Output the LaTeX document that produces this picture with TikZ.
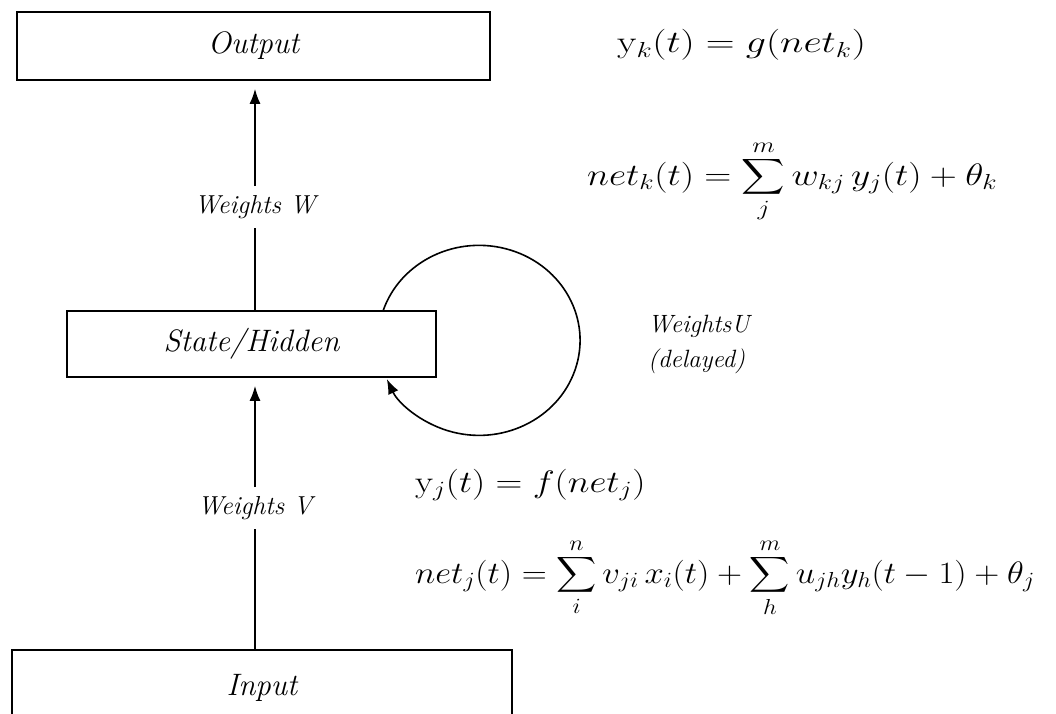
\documentclass[tikz,border=0pt]{standalone}
\usepackage{fix-cm}
\usepackage{amsmath}
\usepackage{graphicx}
\usetikzlibrary{arrows.meta}
\begin{document}
\begin{tikzpicture}[x=1pt,y=-1pt,
  box/.style={draw,line width=1.6pt,inner sep=0pt,font=\fontsize{31}{34}\selectfont\itshape},
  wl/.style={inner xsep=2pt,inner ysep=9pt,font=\fontsize{26}{30}\selectfont\itshape},
  conn/.style={line width=1.6pt},
  arr/.style={conn,-{Latex[length=15pt,width=11pt]}},
  eq/.style={inner sep=0pt,font=\fontsize{31}{36}\selectfont}
]
\clip (0,0) rectangle (1056,713);
\useasboundingbox (0,0) rectangle (1056,713);
\fill[white] (0,0) rectangle (1056,713);

\node[box,minimum width=473pt,minimum height=68pt] (out) at (253.5,46) {Output};
\node[box,minimum width=369pt,minimum height=66pt] (st) at (251.5,344) {State/Hidden};
\node[box,minimum width=500pt,minimum height=76pt] (in) at (262,688) {Input};

\node[wl] (ww) at (255,207) {Weights W};
\node[wl] (wv) at (255,508) {Weights V};
\draw[conn] (st.north -| ww) -- (ww);
\draw[arr,shorten >=8pt] (ww) -- (out.south -| ww);
\draw[conn] (in.north -| wv) -- (wv);
\draw[arr,shorten >=8pt] (wv) -- (st.south -| wv);

\coordinate (ls) at (383,311);
\draw[arr] (ls) arc[start angle=-162,end angle=156,x radius=101,y radius=95];

\node[wl,inner sep=0pt,align=left,anchor=west,font=\fontsize{25}{35}\selectfont\itshape] (wu) at (648,344) {WeightsU\\(delayed)};

\node[eq,anchor=west] (e1) at (617,45) {\scalebox{1.29}[1]{$\mathrm{y}_k(t) = g(net_k)$}};
\node[eq,anchor=base west] (e2) at (587,185) {\scalebox{1.21}[1]{$\displaystyle net_k(t) = \sum_j^m w_{kj}\, y_j(t) + \theta_k$}};
\node[eq,anchor=west] (e3) at (415,485) {\scalebox{1.2}[1]{$\mathrm{y}_j(t) = f(net_j)$}};
\node[eq,anchor=base west] (e4) at (415,583) {\scalebox{1.12}[1]{$\displaystyle net_j(t) = \sum_i^n v_{ji}\,x_i(t) + \sum_h^m u_{jh} y_h(t-1) + \theta_j$}};
\end{tikzpicture}
\end{document}
